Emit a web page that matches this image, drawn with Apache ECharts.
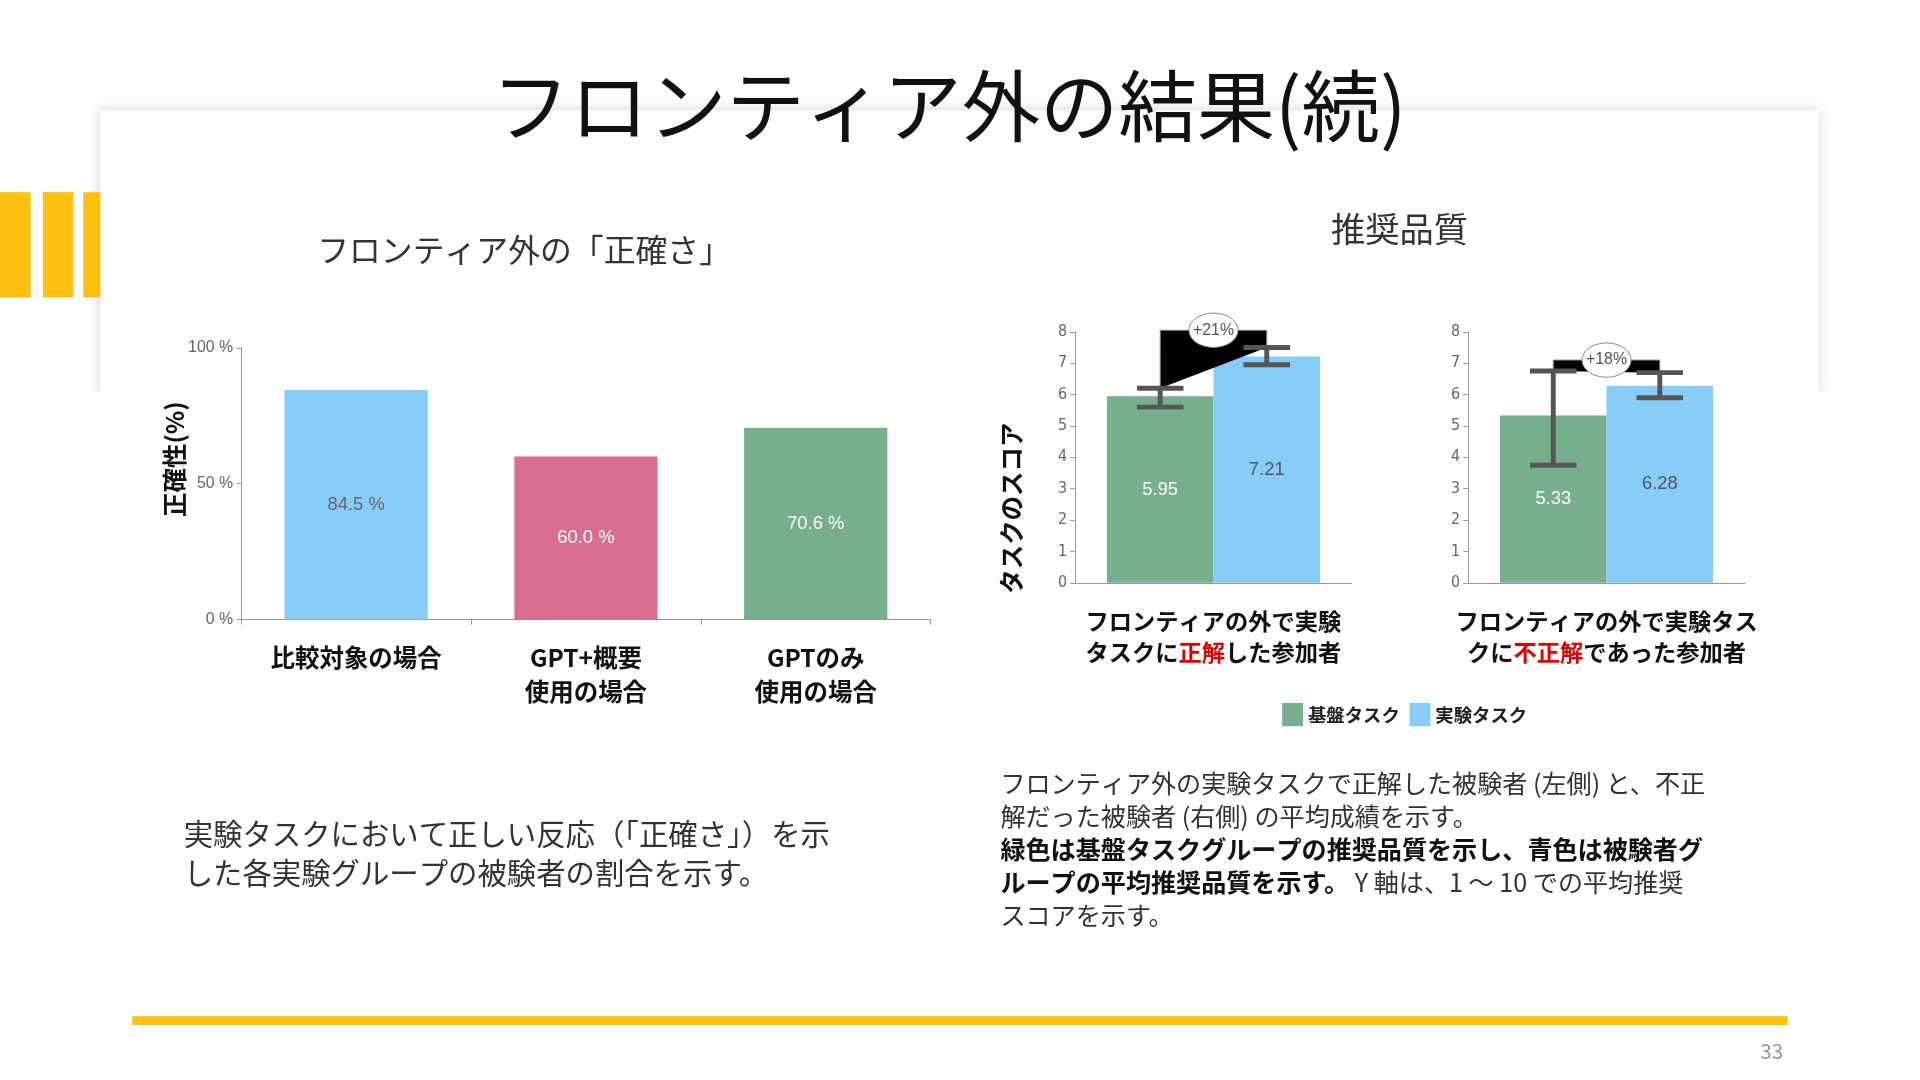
<!DOCTYPE html><html><head><meta charset="utf-8">
<script src="https://cdn.jsdelivr.net/npm/echarts@6/dist/echarts.min.js"></script>
<style>html,body{margin:0;padding:0;background:#fff}#c{width:1920px;height:1080px}</style></head><body><div id="c"></div>
<script>
const accCats=['比較対象の場合','GPT+概要\n使用の場合','GPTのみ\n使用の場合'];
const accVals=[84.5,60.0,70.6];
const accColors=['#88cdf8','#d96f8f','#77af8d'];
const accTicks=['0 %','50 %','100 %'];
const grpNames=['基盤タスク','実験タスク'];
const leftVals=[5.95,7.21], rightVals=[5.33,6.28];
const leftErr=[[5.6,6.2],[6.95,7.5]], rightErr=[[3.75,6.75],[5.9,6.7]];
const leftGain='+21%', rightGain='+18%';
const leftBracket=[6.2,8.05,7.5], rightBracket=[6.75,7.1,6.7];
const K=1920/1568;
const F='"Noto Sans CJK JP","Noto Sans",sans-serif';
const GREEN='#77af8d', BLUE='#88cdf8';
const chart=echarts.init(document.getElementById('c'));
function g(l,t,w,h){return {left:l*K,top:t*K,width:w*K,height:h*K};}
const yBase={type:'value',min:0,max:8,interval:1,axisLine:{show:true,lineStyle:{color:'#999'}},axisTick:{show:true,length:4*K,lineStyle:{color:'#999'}},splitLine:{show:false},axisLabel:{color:'#666',fontSize:13*K,fontFamily:'"Liberation Sans Narrow","DejaVu Sans Condensed",sans-serif'}};
function xLabel(a,b,c){return {type:'category',data:[a+'{r|'+b+'}'+c],axisLine:{lineStyle:{color:'#999'}},axisTick:{show:false},axisLabel:{interval:0,margin:18*K,fontSize:19*K,fontWeight:'bold',color:'#111',fontFamily:F,lineHeight:26*K,rich:{r:{color:'#e00000',fontSize:19*K,fontWeight:'bold',fontFamily:F}}}};}
function errSeries(idx,errs){return {type:'custom',xAxisIndex:idx,yAxisIndex:idx,z:5,data:errs.map((e,i)=>[0,e[0],e[1],i]),renderItem:(p,api)=>{const off=(api.value(3)===0?-43.5:43.5)*K;const lo=api.coord([0,api.value(1)]),hi=api.coord([0,api.value(2)]);const x=lo[0]+off,w=19*K;const st={stroke:'#555',lineWidth:4*K};return {type:'group',children:[{type:'line',shape:{x1:x,y1:lo[1],x2:x,y2:hi[1]},style:st},{type:'line',shape:{x1:x-w,y1:lo[1],x2:x+w,y2:lo[1]},style:st},{type:'line',shape:{x1:x-w,y1:hi[1],x2:x+w,y2:hi[1]},style:st}]};}};}
function bracket(idx,b,label){return {type:'custom',xAxisIndex:idx,yAxisIndex:idx,z:4,data:[[0,b[0],b[1],b[2]]],renderItem:(p,api)=>{const a=api.coord([0,api.value(1)]),t=api.coord([0,api.value(2)]),c=api.coord([0,api.value(3)]);const x1=a[0]-43.5*K,x2=a[0]+43.5*K,ty=t[1];const st={stroke:'#888',lineWidth:1};const mx=a[0];return {type:'group',children:[{type:'polyline',shape:{points:[[x1,a[1]],[x1,ty],[x2,ty],[x2,c[1]]]},style:st},{type:'ellipse',shape:{cx:mx,cy:ty,rx:20*K,ry:14*K},style:{fill:'#fff',stroke:'#888',lineWidth:1}},{type:'text',x:mx,y:ty,style:{text:label,fill:'#555',fontSize:13*K,fontFamily:'"Liberation Sans Narrow",sans-serif',align:'center',verticalAlign:'middle'}}]};}};}
function gbar(idx,name,v,color,lc){return {type:'bar',name,xAxisIndex:idx,yAxisIndex:idx,data:[v],barWidth:87*K,barGap:'0%',itemStyle:{color},label:{show:true,position:'inside',color:lc,fontSize:15*K,fontFamily:'"Liberation Sans Narrow",sans-serif',formatter:p=>p.value.toFixed(2)}};}
const T=(x,y,text,size,o)=>Object.assign({type:'text',x:x*K,y:y*K,style:Object.assign({text,fontSize:size*K,fontFamily:F,fill:'#222'},o||{})},{});
chart.setOption({
 animation:false,
 legend:{data:grpNames,left:1043*K,top:570*K,itemWidth:17*K,itemHeight:19*K,itemGap:8*K,icon:'rect',textStyle:{fontSize:15*K,fontWeight:'bold',color:'#222',fontFamily:F}},
 grid:[g(197,284,563,222),g(878,271,226,205),g(1199,271,226,205)],
 xAxis:[{type:'category',gridIndex:0,data:accCats,axisLine:{lineStyle:{color:'#999'}},axisTick:{show:true,alignWithLabel:false,lineStyle:{color:'#999'}},axisLabel:{interval:0,margin:18*K,fontSize:20*K,fontWeight:'bold',color:'#111',fontFamily:F,lineHeight:27*K}},
  Object.assign(xLabel('フロンティアの外で実験\nタスクに','正解','した参加者'),{gridIndex:1}),
  Object.assign(xLabel('フロンティアの外で実験タス\nクに','不正解','であった参加者'),{gridIndex:2})],
 yAxis:[{type:'value',gridIndex:0,min:0,max:100,interval:50,axisLine:{show:true,lineStyle:{color:'#999'}},axisTick:{show:true,length:4*K,lineStyle:{color:'#999'}},splitLine:{show:false},axisLabel:{color:'#666',fontSize:13*K,fontFamily:'"Liberation Sans Narrow",sans-serif',formatter:v=>accTicks[v/50]}},
  Object.assign({gridIndex:1},yBase),Object.assign({gridIndex:2},yBase)],
 series:[
  {type:'bar',xAxisIndex:0,yAxisIndex:0,barWidth:117*K,data:accVals.map((v,i)=>({value:v,itemStyle:{color:accColors[i]},label:{color:i===0?'#666':'#fff'}})),label:{show:true,position:'inside',fontSize:15*K,fontFamily:'"Liberation Sans Narrow",sans-serif',formatter:p=>p.value.toFixed(1)+' %'}},
  gbar(1,grpNames[0],leftVals[0],GREEN,'#fff'),gbar(1,grpNames[1],leftVals[1],BLUE,'#555'),
  gbar(2,grpNames[0],rightVals[0],GREEN,'#fff'),gbar(2,grpNames[1],rightVals[1],BLUE,'#555'),
  bracket(1,leftBracket,leftGain),bracket(2,rightBracket,rightGain),
  errSeries(1,leftErr),errSeries(2,rightErr)
 ],
 graphic:[
  {type:'rect',z:-10,shape:{x:82*K,y:90*K,width:1403*K,height:232*K},style:{fill:'#fff',shadowBlur:12,shadowColor:'rgba(0,0,0,0.18)'}},
  {type:'rect',z:-9,shape:{x:0,y:322*K-2,width:1920,height:20},style:{fill:'#fff'}},
  {type:'rect',shape:{x:0,y:157*K,width:25*K,height:86*K},style:{fill:'#fdc010'}},
  {type:'rect',shape:{x:35*K,y:157*K,width:25*K,height:86*K},style:{fill:'#fdc010'}},
  {type:'rect',shape:{x:68*K,y:157*K,width:14*K,height:86*K},style:{fill:'#fdc010'}},
  {type:'rect',shape:{x:108*K,y:830*K,width:1352*K,height:7*K},style:{fill:'#fdc010'}},
  T(775,87,'フロンティア外の結果(続)',64,{align:'center',verticalAlign:'middle',fill:'#111'}),
  T(428,204,'フロンティア外の「正確さ」',26,{align:'center',verticalAlign:'middle',fill:'#333'}),
  T(1143,187,'推奨品質',28,{align:'center',verticalAlign:'middle',fill:'#333'}),
  Object.assign(T(143,375,'正確性(%)',20,{align:'center',verticalAlign:'middle',fontWeight:'bold',fill:'#111'}),{rotation:Math.PI/2}),
  Object.assign(T(826,415,'タスクのスコア',20,{align:'center',verticalAlign:'middle',fontWeight:'bold',fill:'#111'}),{rotation:Math.PI/2}),
  T(150,665,'実験タスクにおいて正しい反応（「正確さ」）を示\nした各実験グループの被験者の割合を示す。',24,{lineHeight:32*K,fill:'#333'}),
  T(817,626,'フロンティア外の実験タスクで正解した被験者 (左側) と、不正\n解だった被験者 (右側) の平均成績を示す。',20.5,{lineHeight:27*K,fill:'#333'}),
  T(817,680,'{b|緑色は基盤タスクグループの推奨品質を示し、青色は被験者グ}\n{b|ループの平均推奨品質を示す。} Y 軸は、1 ～ 10 での平均推奨\nスコアを示す。',20.5,{lineHeight:27*K,fill:'#333',rich:{b:{fontWeight:'bold',fill:'#111',fontSize:20.5*K,fontFamily:F}}}),
  T(1447,858,'33',17,{align:'center',verticalAlign:'middle',fill:'#999'})
 ]
});
</script></body></html>
